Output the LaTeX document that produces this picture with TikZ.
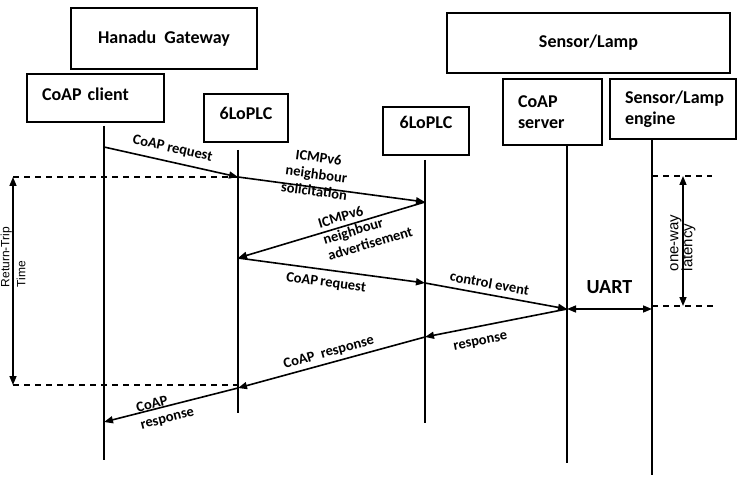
\documentclass[tikz,border=0pt]{standalone}
\usepackage{fontspec}
\setmainfont{Carlito}
\newfontfamily\plainfont{Liberation Sans}
\usetikzlibrary{arrows.meta, positioning}

\begin{document}
\begin{tikzpicture}[x=1pt, y=-1pt, >={Triangle[length=9pt,width=7pt]}]
    \tikzstyle{box}=[draw, line width=1.8pt, inner sep=0pt, font=\fontsize{18}{21}\selectfont\bfseries]
    \tikzstyle{left box}=[box, inner xsep=15pt, align=left]
    \tikzstyle{lifeline}=[line width=1.8pt]
    \tikzstyle{msg}=[->, line width=1.6pt]
    \tikzstyle{msg label}=[sloped, inner sep=1.5pt, font=\fontsize{14.5}{17}\selectfont\bfseries]
    \tikzstyle{guide}=[dash pattern=on 6pt off 5pt, line width=1.2pt]
    \tikzstyle{span}=[<->, line width=1.5pt]
    \tikzstyle{span label}=[rotate=90, align=left, inner sep=0pt]

    \useasboundingbox (0,0) rectangle (741,478);

    % Draw the boxes
    \node[box, minimum width=186pt, minimum height=61pt] (gw) at (164,38.5) {Hanadu~ Gateway};
    \node[box, minimum width=283pt, minimum height=60pt] (lamp) at (588.5,43) {Sensor/Lamp};
    \node[left box, text width=107pt, minimum height=48pt, text depth=7pt] (client) at (95.5,98) {CoAP client};
    \node[box, minimum width=84pt, minimum height=48pt, text depth=9pt] (plc-a) at (246,118) {6LoPLC};
    \node[box, minimum width=86pt, minimum height=48pt, text depth=17pt] (plc-b) at (426,131) {6LoPLC};
    \node[left box, text width=69pt, minimum height=66pt] (server) at (552.5,112) {CoAP\\server};
    \node[left box, text width=96pt, minimum height=60pt] (engine) at (673,109) {Sensor/Lamp\\engine};

    % Lifelines
    \coordinate (cl-top) at (104,126);  \coordinate (cl-bot) at (104,460);
    \coordinate (pa-top) at (238,150);  \coordinate (pa-bot) at (238,413);
    \coordinate (pb-top) at (425,160);  \coordinate (pb-bot) at (425,423);
    \coordinate (sv-top) at (567,145);  \coordinate (sv-bot) at (567,463);
    \coordinate (en-top) at (652,139);  \coordinate (en-bot) at (652,475);
    \foreach \name in {cl,pa,pb,sv,en}
        \draw[lifeline] (\name-top) -- (\name-bot);

    % Message points on the lifelines
    \coordinate (m1) at (104,147);
    \coordinate (m2) at (238,177);
    \coordinate (m3) at (425,202);
    \coordinate (m4) at (238,258);
    \coordinate (m5) at (425,283);
    \coordinate (m6) at (567,309);
    \coordinate (m7) at (652,309);
    \coordinate (m8) at (425,337);
    \coordinate (m9) at (238,388);
    \coordinate (m10) at (104,422);

    % Draw the messages
    \draw[msg] (m1) -- node[msg label, above=5pt, pos=0.49] {CoAP request} (m2);
    \draw[msg] (m2) -- node[msg label, above=-11pt, pos=0.41, align=center] {ICMPv6\\neighbour\\solicitation} (m3);
    \draw[msg] (m3) -- node[msg label, pos=0.33, yshift=-7pt, align=left] {ICMPv6\\neighbour\\advertisement} (m4);
    \draw[msg] (m4) -- node[msg label, below=5pt, pos=0.48] {CoAP\,request} (m5);
    \draw[msg] (m5) -- node[msg label, above=4pt, pos=0.44] {control event} (m6);
    \draw[span] (m6) -- node[above=13pt, inner sep=1.5pt, font=\fontsize{20}{24}\selectfont\bfseries] (uart) {UART} (m7);
    \draw[msg] (m6) -- node[msg label, below=9pt, pos=0.63] {response} (m8);
    \draw[msg] (m8) -- node[msg label, above=2pt, pos=0.5] {CoAP~ response} (m9);
    \draw[msg] (m9) -- node[msg label, pos=0.55, yshift=-4pt, align=left] {CoAP\\response} (m10);

    % Return-trip time
    \coordinate (rt-top) at (13,177);
    \coordinate (rt-bot) at (13,385);
    \coordinate (pa-rt) at (238,385);
    \draw[guide] (rt-top) -- (m2);
    \draw[guide] (rt-bot) -- (pa-rt);
    \draw[span] (rt-top) -- node[span label, pos=0.385, font=\plainfont\fontsize{12}{16}\selectfont] {Return-Trip\\Time} (rt-bot);

    % One-way latency
    \coordinate (en-ow-top) at (652,176);  \coordinate (ow-end-top) at (712,176);
    \coordinate (en-ow-bot) at (652,306);  \coordinate (ow-end-bot) at (715,306);
    \coordinate (ow-top) at (683,176);
    \coordinate (ow-bot) at (683,306);
    \draw[guide] (en-ow-top) -- (ow-end-top);
    \draw[guide] (en-ow-bot) -- (ow-end-bot);
    \draw[span] (ow-top) -- node[span label, pos=0.515, font=\plainfont\fontsize{15}{14}\selectfont] {one-way\\latency} (ow-bot);
\end{tikzpicture}
\end{document}
